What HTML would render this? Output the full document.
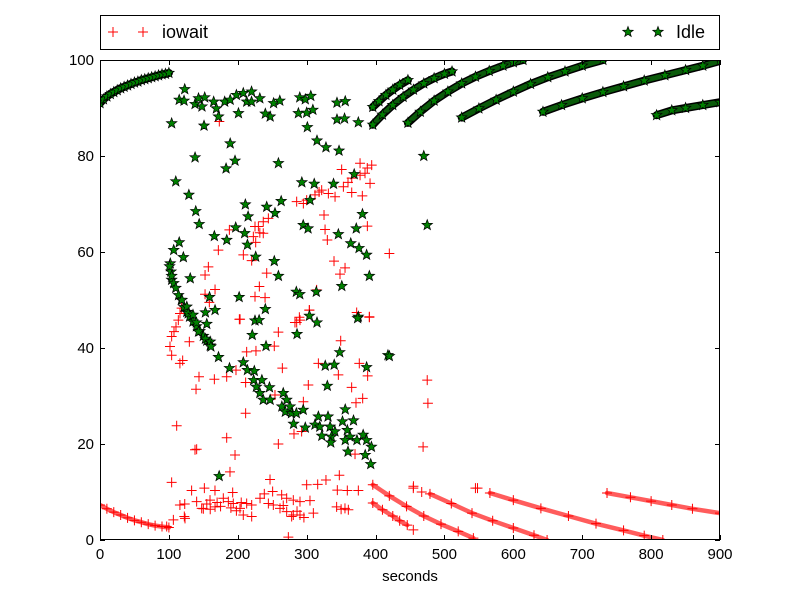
<!DOCTYPE html>
<html><head><meta charset="utf-8"><style>
html,body{margin:0;padding:0;background:#fff;}
svg{display:block;font-family:"Liberation Sans","DejaVu Sans",sans-serif;}
</style></head><body>
<svg id="chart" width="800" height="600" viewBox="0 0 800 600" xmlns="http://www.w3.org/2000/svg">
<rect x="0" y="0" width="800" height="600" fill="#fff"/>
<g id="plot"></g>
<g id="axes"></g>
<g id="legend">
<rect x="100.5" y="15.5" width="619" height="34" fill="#fff" stroke="#000" stroke-width="1"/>
<g>
<path d="M108 32h10M113 27v10M138 32h10M143 27v10" stroke="#f00" stroke-width="1"/>
<text x="162" y="38" font-size="18">iowait</text>
</g>
<g id="legIdle">
<text x="676" y="38" font-size="18">Idle</text>
</g>
</g>
<text x="410" y="581" font-size="15" text-anchor="middle">seconds</text>
</svg>
<script>
const xTicks=[0,100,200,300,400,500,600,700,800,900];
const yTicks=[0,20,40,60,80,100];
// Idle dense curves: [x values], [y values]
const idleC1x=[0,5,10,15,20,25,30,35,40,45,50,55,60,65,70,75,80,85,90,95,100];
const idleC1y=[91,91.8,92.4,92.9,93.3,93.7,94.1,94.4,94.7,95,95.3,95.5,95.8,96,96.2,96.4,96.6,96.8,97,97.1,97.3];
const idleAx=[396,405,415,425,435,447];
const idleAy=[90.2,91.4,92.7,93.8,94.8,95.8];
const idleBx=[396,410,425,440,455,470,485,500,511];
const idleBy=[86.5,88.6,90.6,92.3,93.8,95.1,96.2,97.1,97.6];
const idleCx=[447,465,485,505,525,545,565,585,600,614];
const idleCy=[86.9,89.2,91.5,93.4,95.1,96.5,97.7,98.8,99.5,100];
const idleDx=[525,550,575,600,625,650,675,700,730];
const idleDy=[88,89.9,91.7,93.4,95,96.4,97.6,98.8,100];
const idleEx=[643,670,700,730,760,790,820,850,875,900];
const idleEy=[89.2,90.6,92,93.3,94.5,95.7,96.8,97.9,98.8,99.8];
const idleFx=[808,830,850,875,900];
const idleFy=[88.5,89.5,90,90.6,91.2];
// Idle scattered points
const idlePts=[[104,86.8],[123,93.9],[115,91.7],[122,91.5],[138,90.8],[148,90.3],[143,92],[152,92.2],[165,91.3],[169,89.9],[172,88.2],[181,91.3],[189,91.7],[198,92.7],[208,93.1],[220,93.4],[213,91.3],[220,91.3],[232,92],[201,88.9],[151,86.3],[189,82.6],[196,79],[183,77.4],[138,79.7],[110,74.7],[129,71.9],[139,68.5],[144,65.8],[166,63.3],[184,62.5],[197,65.1],[210,63.9],[211,69.9],[215,67.4],[242,69.4],[254,68.1],[263,70.6],[259,78.5],[252,91],[261,91.5],[290,92.2],[298,91.8],[306,92.5],[288,88.9],[300,89],[309,89.6],[247,88.2],[240,88.8],[301,86],[315,83.2],[328,81.8],[347,81.1],[344,87.6],[355,87.8],[375,87],[344,91.1],[356,91.4],[293,74.5],[311,74.2],[339,74.2],[369,76.2],[305,70.8],[295,65.6],[302,64.9],[346,63.7],[372,64.9],[381,67.9],[364,61.8],[376,60.8],[387,59.4],[391,55],[351,52.9],[314,51.7],[285,51.7],[290,51.2],[259,55],[253,58.1],[226,59],[214,61.5],[202,50.6],[159,50.6],[131,54.5],[121,58.9],[107,60.4],[115,62],[102,57.6],[103,55.9],[104,54.2],[470,80],[475,65.6],[418,38.5],[375,46.5],
[101,57],[104,55],[107,53.5],[110,52.5],[114,51],[118,50],[122,48.5],[126,47.5],[130,46.5],[135,45.5],[140,44.5],[145,43.5],[150,42.5],[155,41.5],[160,40.5],
[119,50],[126,48.6],[128,47.2],[135,46.9],[140,45.3],[143,43.4],[153,41.9],[160,41.3],[161,40.3],[153,47.4],[167,47.9],[155,45],[172,38.1],[188,35.8],[208,37],[214,35.4],[224,35.2],[221,42.7],[225,45.7],[231,45.8],[240,48.1],[241,40.4],[223,33.3],[227,31.9],[235,33.3],[232,30.6],[246,31.8],[237,29.2],[247,29.2],[266,30.6],[264,27.8],[271,29.2],[276,27.8],[269,26.7],[278,26.4],[281,24.2],[285,26.4],[295,27.1],[298,23.4],[286,42.9],[304,46.7],[315,45.3],[327,36.3],[340,36.5],[330,32.1],[317,25.7],[312,24],[319,23.6],[322,21.7],[331,25.7],[334,23.6],[336,21.5],[341,22.6],[335,20.3],[348,39.1],[356,27.2],[352,24.7],[368,24.9],[359,22.9],[363,21.5],[356,20.8],[360,18.4],[373,20.8],[382,21.9],[387,20.8],[394,19.4],[385,17.7],[393,15.8],[387,36],[374,46.2],[420,38.3],[173,13.3]];
// iowait dense curves
const ioL1x=[0,10,20,30,40,50,60,70,80,90,100];
const ioL1y=[7.3,6.5,5.8,5.2,4.6,4.1,3.7,3.3,3,2.8,2.6];
const ioLax=[396,420,445,470,495,520,542];
const ioLay=[11.5,9.2,7,5,3.3,1.8,0.4];
const ioLbx=[396,410,425,435,446];
const ioLby=[7.7,6.3,5,4,3.1];
const ioLcx=[479,510,540,570,600,630,649];
const ioLcy=[9.6,7.6,5.6,4,2.5,1,0];
const ioLdx=[566,600,640,680,720,760,790,817];
const ioLdy=[9.8,8.3,6.6,5,3.4,2,0.9,0];
const ioLex=[736,770,800,830,860,900];
const ioLey=[9.8,8.9,8.1,7.3,6.5,5.6];
// iowait scattered
const ioPts=[[222.6,63.2],[229.9,65.3],[237,66.3],[244.4,67],[285.5,70.5],[295.2,70.1],[312.1,71.9],[321.8,72.9],[331.5,72.2],[341.2,71.5],[353.3,73.6],[365.4,75.4],[377.5,76],[384.7,76.4],[392,74.3],[377.5,78.5],[394.4,78.1],[350.8,77.2],[365.4,72.4],[380.8,71.7],[325.2,67.7],[326.7,64.7],[330,62.5],[388.1,65.4],[420,59.7],[339.7,58.1],[355.7,56.7],[348.4,55.4],[314.5,52.1],[303.9,47.9],[289.4,46.4],[285.5,45.3],[372.6,47.4],[391,46.4],[171.8,60.4],[187.8,64.6],[208.1,59.4],[220.2,58.2],[242,55.6],[231.3,52.8],[225,50.7],[239.6,50.5],[203.3,46],[157.3,56.9],[152.5,55.2],[167,52.2],[152.5,51.2],[158.7,49.5],[225,65.3],[237,63.9],[226,62],[232,64],[300,70.8],[318,72.5],[360,74.5],[388,77.5],
[101.6,40.3],[104,42.4],[107.4,43.4],[110.3,44.4],[113.7,45.8],[116.1,47.2],[118.5,48.3],[104,38.5],[116,36.8],[120,37.4],[129.7,41.3],[143.7,34],[139.4,31.4],[166,33.5],[183.9,34],[197.4,35.4],[212.9,39.2],[226.4,39.4],[202.3,46],[258.9,43.3],[253,40.4],[211.4,32.8],[264.7,35.8],[254,30.2],[295.2,28.8],[302.4,32.3],[317,36.8],[346,34.4],[349.4,41.5],[376.4,36.8],[388.5,34.2],[365.3,31.8],[381.3,29.5],[371.6,28.6],[283,45.3],[290.3,45.8],[303.9,47.9],[391,46.5],[211.4,26.4],[183.9,21.3],[137.9,18.8],[140.3,18.9],[196,17.7],[258.9,20],[281.6,22.1],[292.7,22.6],[111.3,23.8],[104,12],[188.7,14.2],[246.8,12.6],[347.4,13.5],[370.2,17.9],[151.5,10.8],[166.9,10.3],[192.6,9.9],[238.5,9.6],[250.6,10.1],[300,11.5],[316,11.6],[328,12.5],[344.5,10.4],[359,10.3],[375,10.3],[454.8,10.8],[454.8,2.1],[273.4,0.6],[173.2,87.2],[475,33.3],[476,28.5],[469,19.4],[455,11.2],[467,10],[545,10.8],[548,10.8],
[116,7.3],[123,7.5],[122.4,4.9],[123.4,4.5],[140.3,8],[147.6,6.6],[159.7,8.3],[167,6.9],[179,8.7],[186.3,8],[193.5,7.6],[203.2,6.6],[212.9,7.6],[220.2,7.3],[208,5.2],[220.2,4.9],[232.3,8.7],[244.4,7.6],[251.6,7.3],[261.3,6.6],[271,5.9],[280.6,5.2],[263.7,9.4],[271,8.7],[280.6,8.3],[290.3,8],[304.8,8.2],[309.7,5.6],[290.3,5.2],[343.5,6.9],[355.6,6.6],[360.5,6.3],[106.5,4.2],[96.8,2.8],[278.2,4.9],[133,10.3],[150,6.5],[160,6.4],[175,7],[190,6.7],[198,6.1],[155,7.5],[170,7.8],[205,7.8],[266,7.2],[286,6],[296,4.7],[350,6.4]];

const NS='http://www.w3.org/2000/svg';
const X0=100,X1=720,Y0=540,Y1=60;
function sx(v){return X0+(v-0)/(900-0)*(X1-X0);}
function sy(v){return Y0-(v-0)/(100-0)*(Y0-Y1);}
const plot=document.getElementById('plot');
const axes=document.getElementById('axes');
function mk(tag,attrs,parent){const e=document.createElementNS(NS,tag);for(const k in attrs)e.setAttribute(k,attrs[k]);parent.appendChild(e);return e;}
function starPath(cx,cy,r){let d='';for(let i=0;i<10;i++){const a=-Math.PI/2+i*Math.PI/5;const rr=i%2?r*0.42:r;d+=(i?'L':'M')+(cx+rr*Math.cos(a)).toFixed(2)+' '+(cy+rr*Math.sin(a)).toFixed(2);}return d+'Z';}
function star(x,y,parent){const e=mk('path',{d:starPath(x,y,5.5),fill:'#008000',stroke:'#000','stroke-width':'0.7'},parent);

return e;}
function plus(x,y,parent){const e=mk('path',{d:`M${x-5} ${y}h10M${x} ${y-5}v10`,stroke:'#f00','stroke-width':'1',fill:'none'},parent);

return e;}
const clip=mk('clipPath',{id:'clp'},plot);mk('rect',{x:X0,y:Y1,width:X1-X0,height:Y0-Y1},clip);
const gIo=mk('g',{'clip-path':'url(#clp)'},plot);


const gId=mk('g',{'clip-path':'url(#clp)'},plot);


function curve(xs,ys,g,kind){
  let d='';xs.forEach((v,i)=>{d+=(i?'L':'M')+sx(v).toFixed(1)+' '+sy(ys[i]).toFixed(1);});
  if(kind==='idle'){
    const a=mk('path',{d:d,stroke:'#000',fill:'none','stroke-width':'8','stroke-linecap':'round'},g);
    
    
    const b=mk('path',{d:d,stroke:'#0a5a0a',fill:'none','stroke-width':'5','stroke-linecap':'round'},g);
    
    
    xs.forEach((v,i)=>star(sx(v),sy(ys[i]),g));
  } else {
    const a=mk('path',{d:d,stroke:'#f33',fill:'none','stroke-width':'4.5','stroke-linecap':'round','stroke-opacity':'0.8'},g);
    
    
    xs.forEach((v,i)=>plus(sx(v),sy(ys[i]),g));
  }
}
curve(ioL1x,ioL1y,gIo,'io');curve(ioLax,ioLay,gIo,'io');curve(ioLbx,ioLby,gIo,'io');
curve(ioLcx,ioLcy,gIo,'io');curve(ioLdx,ioLdy,gIo,'io');curve(ioLex,ioLey,gIo,'io');
ioPts.forEach(p=>plus(sx(p[0]),sy(p[1]),gIo));
curve(idleC1x,idleC1y,gId,'idle');curve(idleAx,idleAy,gId,'idle');curve(idleBx,idleBy,gId,'idle');
curve(idleCx,idleCy,gId,'idle');curve(idleDx,idleDy,gId,'idle');curve(idleEx,idleEy,gId,'idle');curve(idleFx,idleFy,gId,'idle');
idlePts.forEach(p=>star(sx(p[0]),sy(p[1]),gId));
// axes frame
const fr=mk('rect',{x:X0+0.5,y:Y1+0.5,width:X1-X0-1,height:Y0-Y1-1,fill:'none',stroke:'#000','stroke-width':'1'},axes);


xTicks.forEach(t=>{const x=Math.round(sx(t))+0.5;
  const tk=mk('path',{d:`M${x} ${Y0}v-5M${x} ${Y1}v5`,stroke:'#000','stroke-width':'1'},axes);
  
  
  const tl=mk('text',{x:sx(t),y:Y0+19,'font-size':'15','text-anchor':'middle'},axes);tl.textContent=t;
  
  });
yTicks.forEach(t=>{const y=Math.round(sy(t))+0.5;
  const tk=mk('path',{d:`M${X0} ${y}h5M${X1} ${y}h-5`,stroke:'#000','stroke-width':'1'},axes);
  
  
  const tl=mk('text',{x:X0-6,y:sy(t)+5,'font-size':'15','text-anchor':'end'},axes);tl.textContent=t;
  
  });
const lg=document.getElementById('legIdle');
const s1=star(628,32,lg);
const s2=star(658,32,lg);
</script>
</body></html>
